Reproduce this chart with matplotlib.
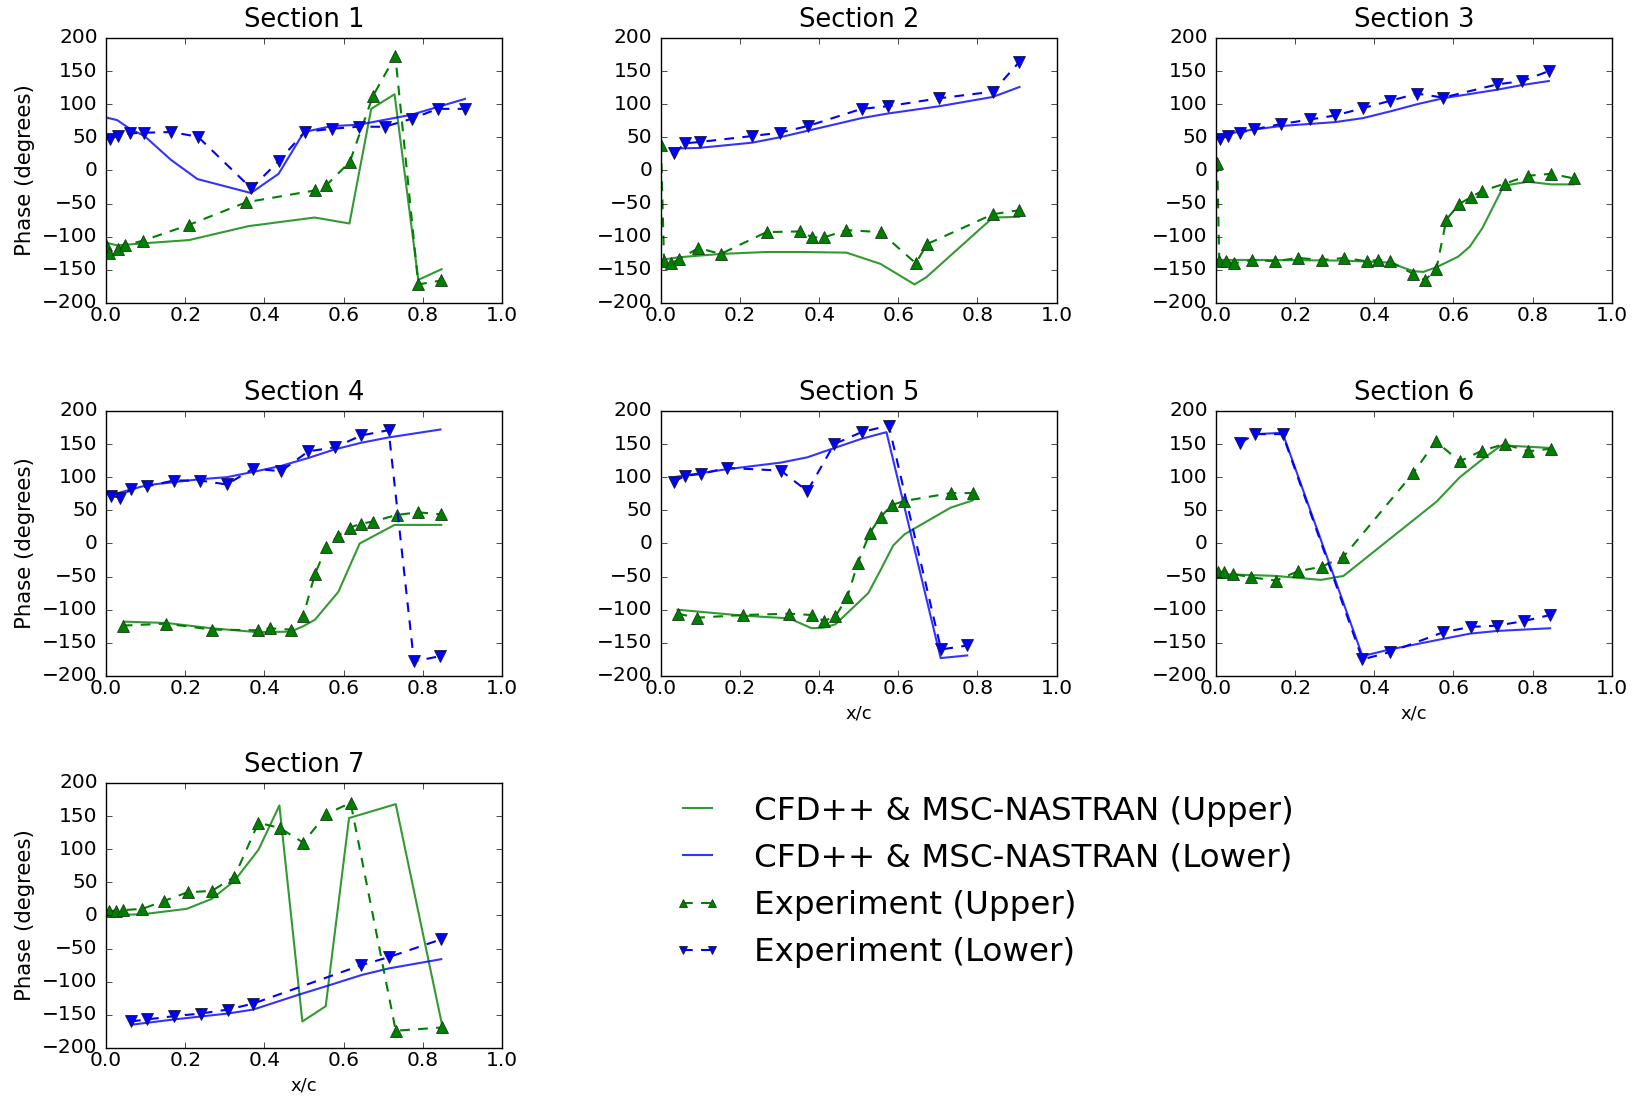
import matplotlib
matplotlib.use("Agg")
import matplotlib.pyplot as plt

# Section 1
s1_up_cfd_x = [0.0, 0.028, 0.094, 0.21, 0.36, 0.527, 0.615, 0.67, 0.729, 0.789, 0.848]
s1_up_cfd = [-109, -113, -110, -105, -84, -71, -80, 93, 115, -165, -149]
s1_lo_cfd_x = [0.0, 0.028, 0.06, 0.097, 0.164, 0.231, 0.366, 0.436, 0.5, 0.57, 0.638, 0.771, 0.907]
s1_lo_cfd = [80, 76, 63, 52, 16, -13, -34, -5, 58, 67, 69, 84, 108]
s1_up_exp_x = [0.0, 0.008, 0.03, 0.048, 0.093, 0.21, 0.354, 0.529, 0.557, 0.616, 0.674, 0.731, 0.789, 0.847]
s1_up_exp = [-113, -124, -119, -113, -106, -82, -48, -30, -22, 13, 112, 173, -172, -166]
s1_lo_exp_x = [0.01, 0.03, 0.06, 0.097, 0.164, 0.232, 0.367, 0.436, 0.502, 0.57, 0.638, 0.704, 0.772, 0.838, 0.907]
s1_lo_exp = [48, 52, 56, 57, 58, 51, -27, 14, 58, 63, 66, 66, 78, 93, 93]

# Section 2
s2_up_cfd_x = [0.0, 0.045, 0.151, 0.267, 0.352, 0.469, 0.555, 0.641, 0.671, 0.839, 0.905]
s2_up_cfd = [-135, -131, -126, -123, -123, -124, -141, -172, -161, -71, -70]
s2_lo_cfd_x = [0.024, 0.095, 0.231, 0.3, 0.371, 0.507, 0.574, 0.704, 0.839, 0.906]
s2_lo_cfd = [33, 34, 42, 50, 60, 79, 86, 97, 111, 126]
s2_up_exp_x = [0.0, 0.008, 0.026, 0.046, 0.095, 0.151, 0.267, 0.352, 0.383, 0.412, 0.469, 0.555, 0.644, 0.673, 0.839, 0.905]
s2_up_exp = [38, -137, -140, -134, -117, -126, -93, -92, -101, -101, -90, -93, -140, -111, -66, -60]
s2_lo_exp_x = [0.034, 0.061, 0.098, 0.231, 0.3, 0.371, 0.507, 0.574, 0.704, 0.839, 0.906]
s2_lo_exp = [26, 41, 43, 52, 57, 67, 93, 97, 109, 119, 164]

# Section 3
s3_up_cfd_x = [0.0, 0.095, 0.322, 0.439, 0.498, 0.524, 0.557, 0.612, 0.641, 0.673, 0.727, 0.788, 0.847, 0.904]
s3_up_cfd = [-135, -135, -136, -139, -152, -153, -146, -130, -115, -87, -23, -17, -21, -21]
s3_lo_cfd_x = [0.0, 0.061, 0.162, 0.301, 0.371, 0.439, 0.508, 0.574, 0.711, 0.774, 0.841]
s3_lo_cfd = [51, 59, 67, 73, 79, 89, 100, 109, 122, 129, 135]
s3_up_exp_x = [0.003, 0.008, 0.026, 0.045, 0.092, 0.15, 0.207, 0.267, 0.324, 0.381, 0.41, 0.439,
               0.498, 0.528, 0.557, 0.582, 0.614, 0.644, 0.672, 0.729, 0.788, 0.847, 0.904]
s3_up_exp = [12, -136, -137, -140, -135, -137, -132, -135, -132, -137, -135, -137,
             -156, -166, -148, -74, -51, -40, -31, -20, -8, -5, -12]
s3_lo_exp_x = [0.011, 0.03, 0.06, 0.095, 0.164, 0.238, 0.301, 0.371, 0.439, 0.508, 0.574, 0.711, 0.774, 0.841]
s3_lo_exp = [48, 52, 57, 62, 70, 77, 83, 94, 105, 116, 110, 130, 135, 150]

# Section 4
s4_up_cfd_x = [0.045, 0.152, 0.267, 0.385, 0.467, 0.498, 0.528, 0.587, 0.641, 0.729, 0.847]
s4_up_cfd = [-118, -120, -128, -134, -133, -125, -115, -73, 0, 28, 28]
s4_lo_cfd_x = [0.0, 0.024, 0.103, 0.238, 0.305, 0.372, 0.442, 0.511, 0.578, 0.645, 0.714, 0.845]
s4_lo_cfd = [74, 75, 88, 97, 100, 108, 117, 129, 142, 152, 160, 172]
s4_up_exp_x = [0.042, 0.152, 0.267, 0.385, 0.413, 0.467, 0.498, 0.528, 0.557, 0.587, 0.616, 0.645, 0.675, 0.734, 0.788, 0.847]
s4_up_exp = [-124, -121, -130, -131, -128, -130, -110, -46, -5, 12, 24, 30, 33, 43, 47, 44]
s4_lo_exp_x = [0.013, 0.036, 0.063, 0.103, 0.171, 0.238, 0.305, 0.372, 0.442, 0.511, 0.578, 0.645, 0.714, 0.778, 0.845]
s4_lo_exp = [72, 69, 82, 86, 95, 95, 89, 113, 109, 139, 145, 163, 171, -178, -170]

# Section 5
s5_up_cfd_x = [0.042, 0.208, 0.324, 0.381, 0.412, 0.441, 0.524, 0.557, 0.587, 0.616, 0.732, 0.788]
s5_up_cfd = [-100, -109, -113, -128, -127, -122, -75, -38, -3, 14, 54, 65]
s5_lo_cfd_x = [0.032, 0.166, 0.303, 0.37, 0.438, 0.507, 0.57, 0.707, 0.774]
s5_lo_cfd = [100, 112, 122, 130, 144, 158, 168, -173, -169]
s5_up_exp_x = [0.042, 0.092, 0.208, 0.324, 0.382, 0.412, 0.441, 0.471, 0.498, 0.528, 0.555, 0.584, 0.614, 0.732, 0.788]
s5_up_exp = [-106, -112, -108, -106, -108, -117, -110, -81, -29, 16, 40, 58, 64, 76, 76]
s5_lo_exp_x = [0.032, 0.061, 0.102, 0.166, 0.303, 0.37, 0.438, 0.507, 0.576, 0.708, 0.774]
s5_lo_exp = [93, 102, 105, 114, 110, 79, 150, 168, 178, -160, -154]

# Section 6
s6_up_cfd_x = [0.0, 0.151, 0.265, 0.322, 0.557, 0.616, 0.675, 0.721, 0.788, 0.847]
s6_up_cfd = [-46, -49, -55, -49, 63, 100, 128, 148, 146, 144]
s6_lo_cfd_x = [0.099, 0.168, 0.37, 0.439, 0.574, 0.643, 0.711, 0.844]
s6_lo_cfd = [165, 167, -170, -160, -144, -136, -132, -128]
s6_up_exp_x = [0.004, 0.021, 0.042, 0.088, 0.151, 0.207, 0.267, 0.322, 0.498, 0.555, 0.616, 0.672, 0.729, 0.788, 0.847]
s6_up_exp = [-43, -43, -46, -51, -56, -42, -35, -20, 106, 154, 124, 140, 150, 139, 143]
s6_lo_exp_x = [0.061, 0.099, 0.168, 0.37, 0.439, 0.574, 0.643, 0.711, 0.779, 0.844]
s6_lo_exp = [152, 165, 165, -175, -164, -134, -126, -124, -117, -108]

# Section 7
s7_up_cfd_x = [0.0, 0.095, 0.204, 0.267, 0.324, 0.385, 0.438, 0.496, 0.555, 0.614, 0.732, 0.85]
s7_up_cfd = [0, 2, 10, 25, 52, 99, 166, -160, -137, 147, 168, -168]
s7_lo_cfd_x = [0.063, 0.171, 0.308, 0.372, 0.49, 0.566, 0.645, 0.714, 0.847]
s7_lo_cfd = [-165, -157, -148, -142, -119, -105, -90, -80, -66]
s7_up_exp_x = [0.007, 0.024, 0.043, 0.092, 0.147, 0.206, 0.267, 0.324, 0.385, 0.439, 0.498, 0.557, 0.618, 0.732, 0.85]
s7_up_exp = [7, 7, 8, 10, 22, 35, 37, 58, 140, 132, 110, 153, 170, -174, -169]
s7_lo_exp_x = [0.063, 0.103, 0.171, 0.24, 0.308, 0.372, 0.645, 0.714, 0.847]
s7_lo_exp = [-160, -157, -152, -148, -142, -133, -75, -63, -36]

titles = ["Section 1", "Section 2", "Section 3", "Section 4", "Section 5", "Section 6", "Section 7"]
labels = ["CFD++ & MSC-NASTRAN (Upper)", "CFD++ & MSC-NASTRAN (Lower)",
          "Experiment (Upper)", "Experiment (Lower)"]

sections = [
    (s1_up_cfd_x, s1_up_cfd, s1_lo_cfd_x, s1_lo_cfd, s1_up_exp_x, s1_up_exp, s1_lo_exp_x, s1_lo_exp),
    (s2_up_cfd_x, s2_up_cfd, s2_lo_cfd_x, s2_lo_cfd, s2_up_exp_x, s2_up_exp, s2_lo_exp_x, s2_lo_exp),
    (s3_up_cfd_x, s3_up_cfd, s3_lo_cfd_x, s3_lo_cfd, s3_up_exp_x, s3_up_exp, s3_lo_exp_x, s3_lo_exp),
    (s4_up_cfd_x, s4_up_cfd, s4_lo_cfd_x, s4_lo_cfd, s4_up_exp_x, s4_up_exp, s4_lo_exp_x, s4_lo_exp),
    (s5_up_cfd_x, s5_up_cfd, s5_lo_cfd_x, s5_lo_cfd, s5_up_exp_x, s5_up_exp, s5_lo_exp_x, s5_lo_exp),
    (s6_up_cfd_x, s6_up_cfd, s6_lo_cfd_x, s6_lo_cfd, s6_up_exp_x, s6_up_exp, s6_lo_exp_x, s6_lo_exp),
    (s7_up_cfd_x, s7_up_cfd, s7_lo_cfd_x, s7_lo_cfd, s7_up_exp_x, s7_up_exp, s7_lo_exp_x, s7_lo_exp),
]

plt.style.use("classic")
plt.rcParams["lines.scale_dashes"] = False
fig = plt.figure(figsize=(16.42, 10.97), dpi=100, facecolor="white")

col_left = [0.0646, 0.4025, 0.7406]
row_bottom = [0.7238, 0.3838, 0.0447]
ax_w, ax_h = 0.241, 0.2416

handles = None
for i, data in enumerate(sections):
    r, c = divmod(i, 3)
    ax = fig.add_axes([col_left[c], row_bottom[r], ax_w, ax_h])
    ucx, ucy, lcx, lcy, uex, uey, lex, ley = data
    h1, = ax.plot(ucx, ucy, color="g", lw=1.5, alpha=0.8)
    h2, = ax.plot(lcx, lcy, color="b", lw=1.5, alpha=0.8)
    h3, = ax.plot(uex, uey, color="g", lw=1.5, ls="--", dashes=(7, 6), marker="^", ms=9,
                  mec="#1a3a1a", mew=0.6)
    h4, = ax.plot(lex, ley, color="b", lw=1.5, ls="--", dashes=(7, 6), marker="v", ms=9,
                  mec="#1a1a3a", mew=0.6)
    handles = [h1, h2, h3, h4]
    ax.set_xlim(0, 1.0)
    ax.set_ylim(-200, 200)
    ax.set_xticks([0.0, 0.2, 0.4, 0.6, 0.8, 1.0])
    ax.set_yticks(range(-200, 201, 50))
    ax.tick_params(axis="x", labelsize=14.5, pad=2)
    ax.tick_params(axis="y", labelsize=14.5, pad=6)
    ax.set_title(titles[i], fontsize=18.5, pad=8)
    if c == 0:
        ax.set_ylabel("Phase (degrees)", fontsize=15.3)
    if i >= 4:
        ax.set_xlabel("x/c", fontsize=13)

fig.legend(handles, labels, loc="upper left", bbox_to_anchor=(0.3925, 0.3015),
           frameon=False, fontsize=23.4, numpoints=2, markerscale=0.7,
           handlelength=1.48, handletextpad=1.0, labelspacing=0.5, borderpad=0.4)

fig.savefig("out.png", dpi=100, facecolor="white")
